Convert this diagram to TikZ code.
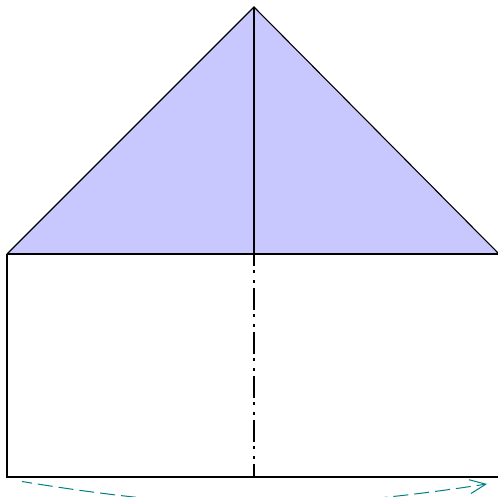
\documentclass[tikz,border=0pt]{standalone}
\usetikzlibrary{arrows.meta}
\definecolor{trifill}{RGB}{200,200,255}
\definecolor{arrteal}{RGB}{0,128,128}
\tikzset{
  edge/.style={line width=1.1pt, black},
  axisline/.style={line width=1.1pt, black, dash pattern=on 22pt off 4pt on 3pt off 7pt on 3pt off 5pt, dash phase=10pt},
  turnarrow/.style={line width=1pt, arrteal, dash pattern=on 15pt off 6pt, dash phase=5pt, -{Straight Barb[length=16pt,width=14pt,line width=1pt]}}
}
\begin{document}
\begin{tikzpicture}[x=1pt,y=-1pt]
\useasboundingbox (0,0) rectangle (498,497);
\coordinate (apex) at (254,7);
\coordinate (bl) at (7,254);
\coordinate (br) at (499,254);
\coordinate (mid) at (254,254);
\coordinate (lb) at (7,477);
\coordinate (rb) at (499,477);
\coordinate (mb) at (254,477);
\coordinate (as) at (22,481.5);
\coordinate (ae) at (487,484);
\fill[trifill] (bl) -- (apex) -- (br) -- cycle;
\draw[edge] (bl) -- (apex) -- (br);
\draw[edge] (bl) -- (br);
\draw[edge] (apex) -- (mid);
\draw[edge] (bl) -- (lb) -- (rb) -- (br);
\draw[axisline] (mid) -- (mb);
\draw[turnarrow] (as) to[bend right=9] (ae);
\end{tikzpicture}
\end{document}
